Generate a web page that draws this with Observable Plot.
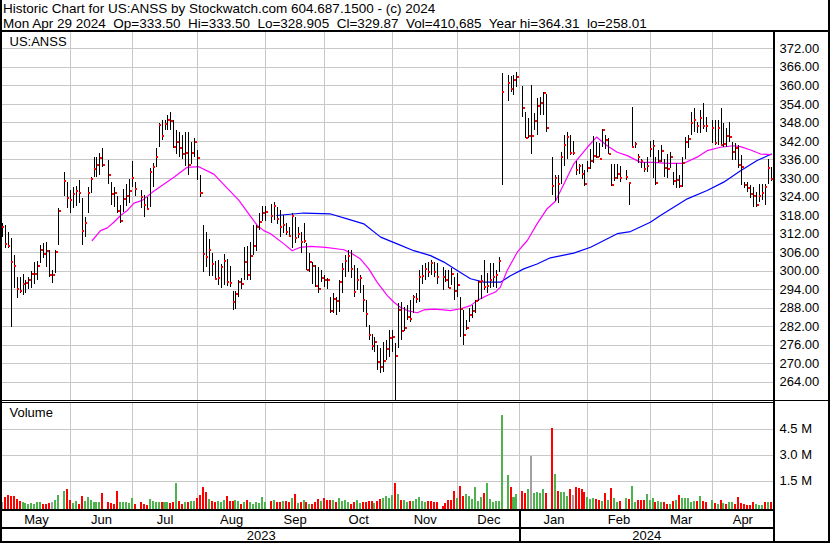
<!DOCTYPE html>
<html><head><meta charset="utf-8">
<script src="https://cdn.jsdelivr.net/npm/d3@7"></script>
<script src="https://cdn.jsdelivr.net/npm/@observablehq/plot@0.6"></script>
<style>
html,body{margin:0;padding:0;background:#fff;}
#chart{position:relative;width:830px;height:543px;overflow:hidden;font-family:"Liberation Sans",Arial,sans-serif;color:#000;background:#fff;}
.ln{position:absolute;background:#000;}
#hdr{position:absolute;left:3px;top:2px;font-size:13.5px;line-height:14.5px;white-space:pre;}
.pl{position:absolute;left:0;}
.pl svg{display:block;}
</style></head><body><div id="chart"></div>
<script>
// ---------- data ----------
const ticker = "US:ANSS";
const firstDay = "2023-05-01", lastDay = "2024-04-29";
const holidays = ["2023-05-29","2023-06-19","2023-07-04","2023-09-04","2023-11-23","2023-12-25","2024-01-01","2024-01-15","2024-02-19","2024-03-29"];
const lastOpen = 333.50, lastVolumeShares = 410685;

const high = [
315.3,314.8,312.4,310.4,305.0,298.0,297.8,298.9,296.9,298.0,300.0,302.8,303.1,308.3,309.0,309.4,306.6,300.2,306.6,320.2,332.0,328.8,
326.1,327.2,327.4,329.3,323.5,317.5,327.2,330.4,336.9,336.9,338.0,339.6,335.8,328.8,327.2,324.0,321.2,326.5,328.1,329.7,335.6,
328.8,326.1,324.4,323.9,333.1,334.7,339.6,347.7,348.8,348.8,350.4,351.5,348.8,345.5,345.0,344.0,345.0,345.0,341.5,343.1,
339.0,331.1,314.8,312.6,310.1,305.6,303.2,303.4,302.1,305.4,303.6,301.5,293.5,293.4,297.1,297.5,307.7,307.9,309.1,314.8,314.8,318.5,320.9,
320.9,321.5,322.3,320.5,319.6,318.0,315.3,314.2,318.5,317.5,314.2,312.6,315.3,308.8,305.6,302.9,301.8,301.2,300.2,298.5,
297.5,291.5,292.6,291.5,296.9,302.3,305.0,306.6,306.6,301.8,300.7,298.5,295.3,290.4,282.3,279.6,278.5,275.8,274.8,277.0,277.5,280.7,
280.7,276.4,289.4,289.9,288.3,288.8,290.5,292.1,292.6,300.2,301.8,302.3,302.9,303.4,302.9,302.3,301.2,300.2,300.2,300.7,298.0,
299.1,291.5,287.2,284.0,287.8,288.8,290.5,296.6,298.5,303.4,299.1,302.3,302.3,300.2,304.5,363.9,363.4,363.0,363.4,364.31,
359.8,351.5,349.3,360.1,350.9,355.8,356.3,357.9,357.2,336.9,330.9,330.9,338.5,343.9,345.0,343.9,342.0,335.6,334.5,334.5,332.5,
335.6,339.4,343.7,341.5,341.3,346.0,343.9,342.8,334.5,334.5,334.5,334.0,332.5,328.8,353.1,341.5,337.9,336.3,335.2,336.9,
342.0,342.3,336.9,339.0,340.6,336.3,337.9,338.5,332.0,334.7,331.0,336.9,343.4,344.0,351.5,352.6,348.2,352.0,354.2,349.8,
348.8,348.8,348.8,352.6,347.7,346.1,348.2,341.7,341.2,340.6,337.4,328.8,328.8,327.7,327.2,325.5,328.2,328.2,328.2,336.3,333.5];
const low = [
310.8,307.2,307.2,281.8,294.2,291.0,292.6,292.1,292.6,294.0,294.2,295.6,296.9,302.3,304.0,301.2,298.0,296.1,299.3,308.3,324.0,320.2,
318.5,320.2,321.0,322.0,308.3,310.8,318.5,325.0,330.4,330.4,331.0,333.6,328.2,321.2,320.6,318.5,315.5,319.0,321.0,322.0,327.2,
324.0,320.2,317.2,319.6,320.7,327.2,333.6,340.1,342.3,345.5,345.5,345.5,339.6,337.9,336.9,336.0,334.0,331.0,334.5,336.9,
329.3,323.9,299.6,301.2,298.2,298.2,296.9,295.3,294.2,295.3,295.1,294.8,287.2,287.4,291.3,294.0,296.9,297.1,297.1,305.0,306.4,313.0,316.2,
316.2,315.3,316.4,315.0,311.0,312.1,311.5,311.0,307.2,308.8,310.4,305.6,308.8,300.2,299.6,295.8,294.8,292.6,296.4,294.8,
293.9,286.1,286.1,285.6,286.6,292.6,298.0,299.6,297.5,291.5,293.7,292.6,286.6,281.8,277.5,274.2,273.7,267.7,266.9,267.2,271.0,272.1,
273.7,258.01,274.8,277.5,280.5,284.0,283.4,286.1,289.4,289.9,295.8,296.9,298.0,298.5,298.0,295.8,293.7,296.4,294.2,295.3,290.4,
291.5,278.6,275.8,280.7,283.4,284.5,286.1,290.3,290.9,293.7,292.6,294.2,294.8,294.2,299.6,327.7,355.0,357.9,356.9,359.6,
349.8,342.8,342.8,337.9,345.5,343.9,350.4,350.4,345.0,324.4,322.6,322.0,328.0,334.0,336.0,337.5,337.5,330.9,331.4,329.7,327.5,
331.8,332.8,335.0,336.6,336.9,339.9,339.4,337.7,327.5,329.1,329.7,328.6,329.3,321.2,339.6,339.6,334.7,333.1,332.0,332.0,
336.9,329.9,327.7,334.7,335.2,330.4,329.9,333.1,327.7,326.6,326.6,327.2,336.0,339.6,344.0,345.0,344.5,344.5,346.0,345.0,
341.2,340.7,340.7,340.7,340.1,340.1,341.7,335.8,335.8,333.1,327.7,326.6,325.5,323.4,320.7,320.7,322.3,322.8,321.2,328.2,328.905];
const close = [
314.2,308.7,308.1,302.8,301.6,294.3,293.5,295.7,296.2,297.2,298.9,298.9,301.6,306.8,305.5,306.4,298.6,298.6,306.1,319.4,329.1,323.6,
323.1,324.9,325.8,325.4,312.9,315.7,325.4,329.9,333.1,334.3,336.5,334.3,331.2,324.9,325.4,319.4,316.2,323.2,324.2,325.8,330.1,
326.7,324.0,321.3,320.0,332.0,333.6,336.9,347.2,343.8,347.5,348.8,348.5,340.3,341.7,339.8,338.0,338.4,334.2,338.2,341.7,
336.5,325.2,305.5,304.5,306.8,302.2,297.4,297.9,301.2,303.2,296.4,296.0,289.9,292.5,296.4,295.8,302.9,298.6,304.8,308.0,314.2,316.0,318.8,
319.1,317.7,321.0,316.8,314.2,315.0,312.6,311.3,317.9,310.6,311.9,309.4,309.9,300.5,302.8,301.6,295.0,294.3,297.7,297.2,
297.0,287.2,290.9,290.2,296.4,300.8,303.1,304.8,300.6,293.1,297.1,297.6,290.5,286.0,279.4,275.6,277.1,270.6,268.9,270.8,274.9,278.2,
278.5,272.6,287.5,280.7,281.7,285.0,284.4,291.5,290.9,298.0,298.5,300.6,299.6,302.5,299.6,298.2,298.0,297.1,294.4,298.9,293.4,
295.4,287.8,279.2,281.7,285.9,287.2,290.2,296.4,296.9,294.8,295.3,297.2,298.2,298.6,303.2,357.9,360.9,358.9,361.9,362.8,
352.8,343.0,343.9,343.9,348.5,353.6,354.6,357.6,346.3,327.5,330.2,328.1,336.9,340.9,343.5,338.4,338.4,332.8,333.9,331.5,328.3,
333.3,335.8,337.2,336.8,336.2,345.8,342.3,338.0,327.9,330.2,331.5,330.2,330.5,328.4,340.1,341.0,336.8,335.5,333.1,334.0,
339.6,340.5,328.5,335.7,338.9,333.3,333.1,337.1,329.1,329.6,327.4,335.0,341.9,342.9,347.9,349.0,346.9,349.6,347.1,347.1,
346.4,341.5,346.4,340.7,341.1,343.6,343.4,338.5,339.9,334.5,333.6,327.9,326.9,324.9,324.2,321.4,324.2,325.2,327.1,333.3,329.87];
// volume in millions of shares
const volume = [
0.42,0.67,0.79,0.73,0.73,0.60,0.44,0.42,0.35,0.31,0.35,0.27,0.39,0.39,0.31,0.31,0.33,0.42,0.52,0.79,1.02,1.14,
0.50,0.35,0.48,0.27,0.75,0.48,0.67,0.50,0.42,0.39,0.42,0.92,0.39,0.33,0.31,1.02,0.39,0.39,0.39,0.35,0.62,
0.31,0.39,0.31,0.25,0.60,0.45,0.42,0.42,0.39,0.39,0.42,0.35,0.39,1.52,0.46,0.31,0.39,0.42,0.46,0.46,
0.65,0.81,1.29,0.98,0.58,0.46,0.42,0.46,0.42,0.50,0.77,0.46,0.46,0.50,0.46,0.31,0.39,0.50,0.39,0.31,0.42,0.35,0.71,
0.40,0.46,0.54,0.39,0.42,0.46,0.46,0.42,0.62,0.89,0.37,0.42,0.50,0.39,0.31,0.31,0.39,0.58,0.46,0.62,
0.54,0.54,0.54,0.42,0.62,0.46,0.54,0.42,0.31,0.39,0.50,0.35,0.42,0.42,0.46,0.46,0.35,0.46,0.58,0.62,0.77,0.65,
0.81,1.50,0.89,0.50,0.50,0.39,0.46,0.46,0.58,0.69,0.46,0.39,0.46,0.46,0.42,0.42,0.17,0.33,0.52,0.54,1.04,
0.62,1.35,0.77,0.85,0.77,0.58,1.27,0.46,0.69,0.91,1.50,0.58,0.42,0.46,0.46,5.43,1.97,1.27,0.69,0.85,
1.04,0.91,1.14,3.06,0.92,0.98,0.94,1.16,0.92,4.68,2.02,1.04,1.00,1.00,0.77,1.16,0.81,1.27,1.21,1.14,1.00,
0.67,0.58,0.62,0.56,0.50,0.46,0.91,0.54,1.23,0.62,0.39,0.46,0.64,0.55,1.33,0.40,0.50,0.50,0.52,0.89,
0.50,0.62,0.42,0.46,0.42,0.39,0.31,0.31,0.46,0.50,0.81,0.62,0.62,0.62,0.39,0.48,0.46,0.75,0.48,0.42,
0.54,0.35,0.27,0.54,0.35,0.31,0.39,0.42,0.31,0.67,0.35,0.31,0.23,0.23,0.42,0.31,0.23,0.23,0.39,0.42,0.41];
// volume bar colour read per month: g up, r down, n unchanged, ? = taken from the close change
const volColorByMonth = [
"nrrrrrrgggggggrrrngggr","rggrrggggggrrrrrggggg","r???????????????????",
"???????????????????????","????????????????????","??????????????????????",
"????????ggggrrrrrrrrr","grrggggggrgggggggrgg","rrgnggggrrgrgggrnrrrr",
"gggrrgrgrggrgrggrrrg","?????????????????grr","grgrgrggrrrrrrrgggrgr"];

// moving averages (weekday slot, price)
const pinkSlot = [30.4,33.2,35.5,37.7,40.0,42.2,44.5,47.3,50.7,58.0,62.5,66.4,71.5,80.0,83.3,86.2,88.4,90.7,95.2,98.0,100.8,104.2,109.3,115.5,118.3,121.1,123.9,126.7,130.1,132.4,134.6,136.9,140.3,142.5,145.9,149.3,151.5,154.9,158.3,160.6,163.9,166.7,168.4,170.7,174.1,177.5,180.8,184.2,187.0,193.2,197.8,200.9,204.5,207.9,211.3,215.8,220.3,224.8,230.4,234.9,238.3,242.8,247.3,249.6,253.0,256.4,260.0];
const pinkVal = [309.9,313.1,314.0,315.8,318.0,319.6,322.0,322.9,325.5,330.4,333.6,333.8,331.4,322.9,318.5,314.8,313.1,312.1,308.8,306.6,307.7,308.0,307.7,306.9,305.6,303.9,300.7,296.4,292.1,289.9,288.3,287.2,286.5,287.4,287.7,287.4,287.2,287.8,288.8,290.5,292.1,293.2,294.8,300.2,306.1,309.9,315.3,320.2,322.6,334.7,340.1,343.4,340.6,338.5,337.4,335.2,335.2,334.9,334.9,336.9,339.0,340.1,340.6,340.3,339.2,337.9,337.7];
const blueSlot = [92.8,101.9,111.0,116.6,122.2,127.9,133.5,139.1,144.8,149.3,153.8,158.3,162.8,168.4,171.8,176.3,180.8,185.3,193.2,198.9,207.9,212.4,219.1,222.5,231.6,238.3,243.9,249.6,255.2,260.0];
const blueVal = [318.0,318.8,318.5,316.9,315.3,311.0,308.8,306.6,305.0,302.9,300.2,297.5,296.4,296.4,298.5,300.7,302.3,304.3,305.8,307.7,312.1,312.8,315.8,318.0,323.4,326.1,328.8,332.5,335.8,337.9];

// axes
const priceTicks = [264,270,276,282,288,294,300,306,312,318,324,330,336,342,348,354,360,366,372];
const volTicks = [1.5,3.0,4.5];
const monthLabels = ["May","Jun","Jul","Aug","Sep","Oct","Nov","Dec","Jan","Feb","Mar","Apr"];
const monthGridSlots = [23,44,66,89,109,132,154,175,198,219,240];
const yearLabels = ["2023","2024"];
const yearBreakSlot = 175;

// ---------- build ----------
const days = [];
{
  let slot = 0;
  const end = new Date(lastDay + "T00:00:00Z");
  for (let d = new Date(firstDay + "T00:00:00Z"); d <= end; d.setUTCDate(d.getUTCDate() + 1)) {
    const wd = d.getUTCDay();
    if (wd === 0 || wd === 6) continue;
    const iso = d.toISOString().slice(0, 10);
    if (!holidays.includes(iso)) days.push({date: iso, slot});
    slot++;
  }
}
const volColors = volColorByMonth.join("");
const colorOf = {g: "#4db34d", r: "#ff0000", n: "#a0a0a0"};
const bars = close.map((c, i) => {
  let k = volColors[i];
  if (k === "?") k = c > close[i - 1] ? "g" : c < close[i - 1] ? "r" : "n";
  return {slot: days[i].slot, high: high[i], low: low[i], close: c, vol: volume[i], color: colorOf[k]};
});
const pink = pinkSlot.map((s, i) => ({slot: s, v: pinkVal[i]}));
const blue = blueSlot.map((s, i) => ({slot: s, v: blueVal[i]}));

const root = document.getElementById("chart");
function line(l, t, w, h) { const d = document.createElement("div"); d.className = "ln"; Object.assign(d.style, {left: l + "px", top: t + "px", width: w + "px", height: h + "px"}); root.appendChild(d); }
function place(svg, top) { const d = document.createElement("div"); d.className = "pl"; d.style.top = top + "px"; d.appendChild(svg); root.appendChild(d); }

// header
const last = bars[bars.length - 1];
const fmt2 = d3.format(".2f");
const hdr = document.createElement("div");
hdr.id = "hdr";
const l1 = document.createElement("div");
l1.textContent = `Historic Chart for ${ticker} by Stockwatch.com 604.687.1500 - (c) 2024`;
const l2 = document.createElement("div");
l2.textContent = `Mon Apr 29 2024  Op=${fmt2(lastOpen)}  Hi=${fmt2(d3.max([lastOpen, last.high]))}  Lo=${last.low}  Cl=${fmt2(last.close)}  Vol=${d3.format(",")(lastVolumeShares)}  Year hi=${fmt2(d3.max(high))}  lo=${fmt2(d3.min(low))}`;
hdr.append(l1, l2);
root.appendChild(hdr);

const xScale = {domain: [0.057, 260.74], axis: null};
const common = {width: 830, marginLeft: 2, marginRight: 57, marginTop: 0, marginBottom: 0,
  style: {fontFamily: '"Liberation Sans", Arial, sans-serif', fontSize: "13px", background: "transparent", color: "#000", overflow: "visible"}};
const grid = "#c8c8c8";

const price = Plot.plot({
  ...common, height: 368,
  x: xScale,
  y: {domain: [258.07, 377.28], axis: null},
  marks: [
    Plot.ruleY(priceTicks, {stroke: grid, shapeRendering: "crispEdges"}),
    Plot.ruleX(monthGridSlots, {stroke: grid, shapeRendering: "crispEdges"}),
    Plot.line(blue, {x: "slot", y: "v", stroke: "#0000ff", strokeWidth: 1.2}),
    Plot.line(pink, {x: "slot", y: "v", stroke: "#ff00ff", strokeWidth: 1.2}),
    Plot.ruleX(bars, {x: "slot", y1: "low", y2: "high", stroke: "#000", strokeWidth: 1, shapeRendering: "crispEdges", clip: true}),
    Plot.ruleY(bars, {y: "close", x1: d => d.slot + 0.17, x2: d => d.slot + 0.85, stroke: "#ff0000", strokeWidth: 2, shapeRendering: "crispEdges"}),
    Plot.axisY(priceTicks, {anchor: "right", tickSize: 0, tickPadding: 6, tickFormat: fmt2, label: null}),
    Plot.text([ticker], {frameAnchor: "top-left", dx: 7, dy: 4.5, lineAnchor: "top"})
  ]
});

const vol = Plot.plot({
  ...common, height: 107,
  x: xScale,
  y: {domain: [0, 107 / 17.3], axis: null},
  color: {type: "identity"},
  marks: [
    Plot.ruleY(volTicks, {stroke: grid, dy: -2.5, shapeRendering: "crispEdges"}),
    Plot.ruleX(monthGridSlots, {stroke: grid, shapeRendering: "crispEdges"}),
    Plot.rect(bars, {x1: d => d.slot - 0.34, x2: d => d.slot + 0.34, y1: 0, y2: "vol", fill: "color", shapeRendering: "crispEdges"}),
    Plot.axisY(volTicks, {anchor: "right", tickSize: 0, tickPadding: 6, dy: -2.5, tickFormat: d => d.toFixed(1) + " M", label: null}),
    Plot.text(["Volume"], {frameAnchor: "top-left", dx: 7, dy: 5.5, lineAnchor: "top"})
  ]
});

const monthEdges = [0.057, ...monthGridSlots, 260.74];
const months = monthLabels.map((m, i) => ({label: m, slot: (monthEdges[i] + monthEdges[i + 1]) / 2}));
const yearEdges = [0.057, yearBreakSlot, 260.74];
const years = yearLabels.map((y, i) => ({label: y, slot: (yearEdges[i] + yearEdges[i + 1]) / 2}));

const axisRows = Plot.plot({
  ...common, height: 30,
  x: xScale,
  marks: [
    Plot.ruleX([yearBreakSlot], {stroke: "#000", strokeWidth: 2, shapeRendering: "crispEdges"}),
    Plot.text(months, {x: "slot", text: "label", frameAnchor: "top", dy: 8.5, lineAnchor: "middle"}),
    Plot.text(years, {x: "slot", text: "label", frameAnchor: "top", dy: 24, lineAnchor: "middle"})
  ]
});

place(price, 32);
place(vol, 402);
place(axisRows, 511);

// frame lines
line(0, 0, 2, 543);          // left border
line(828, 0, 2, 543);        // right border
line(0, 30, 830, 2);         // header bottom
line(0, 400, 830, 1);        // price bottom
line(0, 402, 773, 1);        // volume top
line(773, 30, 2, 513);       // axis column
line(0, 509, 773, 2);        // volume bottom
line(0, 527, 773, 2);        // month / year separator
line(0, 541, 830, 2);        // bottom border
</script></body></html>
